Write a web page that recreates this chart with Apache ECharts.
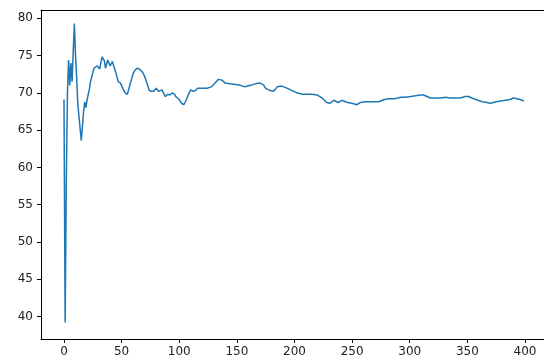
<!DOCTYPE html>
<html>
<head>
<meta charset="utf-8">
<script src="https://cdn.jsdelivr.net/npm/echarts@6/dist/echarts.min.js"></script>
<style>html,body{margin:0;padding:0;background:#fff;}#c{width:544px;height:364px;}</style>
</head>
<body>
<div id="c"></div>
<script>
var xs = [0,1,2,3,4,5,6,7,8,9,10,11,12,13,14,15,16,17,18,19,20,22,23,26,29,31,33,35,36,38,40,42,45,47,49,51,53,55,56,58,60,62,64,66,68,70,72,74,76,78,80,82,83,85,87,88,90,92,94,96,97,100,102,104,106,108,110,112,114,116,120,124,128,131,134,137,140,144,149,153,157,162,166,170,173,175,179,182,185,189,194,198,202,207,211,215,220,224,228,231,234,238,241,246,250,254,257,262,267,273,278,282,287,292,296,301,305,309,312,315,318,322,327,331,335,340,344,348,351,354,359,363,367,370,375,379,383,387,390,393,396,399];
var ys = [69.1,39.2,58.0,70.0,74.4,71.0,74.0,71.5,75.5,79.3,75.0,72.0,68.5,66.8,67.0,63.6,65.5,67.5,68.8,68.0,69.0,70.5,71.5,73.3,73.6,73.2,74.8,74.3,73.3,74.4,73.6,74.2,72.7,71.5,71.3,70.6,70.0,69.8,70.0,71.5,72.6,73.1,73.3,73.1,72.8,72.2,71.3,70.3,70.2,70.2,70.6,70.2,70.0,70.4,69.8,69.5,69.8,69.7,70.0,69.8,69.5,69.1,68.6,68.4,69.0,69.8,70.4,70.2,70.3,70.6,70.6,70.6,70.8,71.3,71.8,71.7,71.3,71.2,71.1,71.0,70.8,71.0,71.2,71.3,71.1,70.6,70.3,70.2,70.8,70.9,70.6,70.3,70.0,69.8,69.8,69.8,69.7,69.3,68.7,68.6,69.0,68.7,69.0,68.7,68.6,68.4,68.7,68.8,68.8,68.8,69.1,69.2,69.2,69.4,69.4,69.5,69.6,69.7,69.7,69.5,69.3,69.3,69.3,69.4,69.3,69.3,69.3,69.5,69.5,69.3,69.0,68.8,68.7,68.6,68.8,68.9,69.0,69.1,69.3,69.2,69.1,68.9];
var xTicks = [0,50,100,150,200,250,300,350,400];
var yTicks = [40,45,50,55,60,65,70,75,80];

var pts = xs.map(function(x,i){return [x, ys[i]];});
var chart = echarts.init(document.getElementById('c'), null, {renderer:'canvas'});
var font = 'DejaVu Sans';
chart.setOption({
  animation:false,
  backgroundColor:'#fff',
  grid:{left:41, top:10, width:503, height:329, outerBoundsMode:'none', containLabel:false, show:false},
  xAxis:[{type:'value', min:-19.95, max:416.5,
    axisLine:{show:true, onZero:false, lineStyle:{color:'#000', width:1}},
    axisTick:{show:true, length:4, lineStyle:{color:'#000'}, customValues:xTicks},
    axisLabel:{color:'#222', fontFamily:font, fontSize:12, margin:7, customValues:xTicks},
    splitLine:{show:false}},
   {type:'value', position:'top', min:-19.95, max:416.5,
    axisLine:{show:true, onZero:false, lineStyle:{color:'#000', width:1}},
    axisTick:{show:false}, axisLabel:{show:false}, splitLine:{show:false}}],
  yAxis:{type:'value', min:37.0, max:81.1,
    axisLine:{show:true, onZero:false, lineStyle:{color:'#000', width:1}},
    axisTick:{show:true, length:4, lineStyle:{color:'#000'}, customValues:yTicks},
    axisLabel:{color:'#222', fontFamily:font, fontSize:12, margin:8, customValues:yTicks},
    splitLine:{show:false}},
  series:[{type:'line', xAxisIndex:0, data:pts, showSymbol:false, symbol:'none',
    lineStyle:{color:'#1f77b4', width:1.5}, itemStyle:{color:'#1f77b4'}}]
});
</script>
</body>
</html>
